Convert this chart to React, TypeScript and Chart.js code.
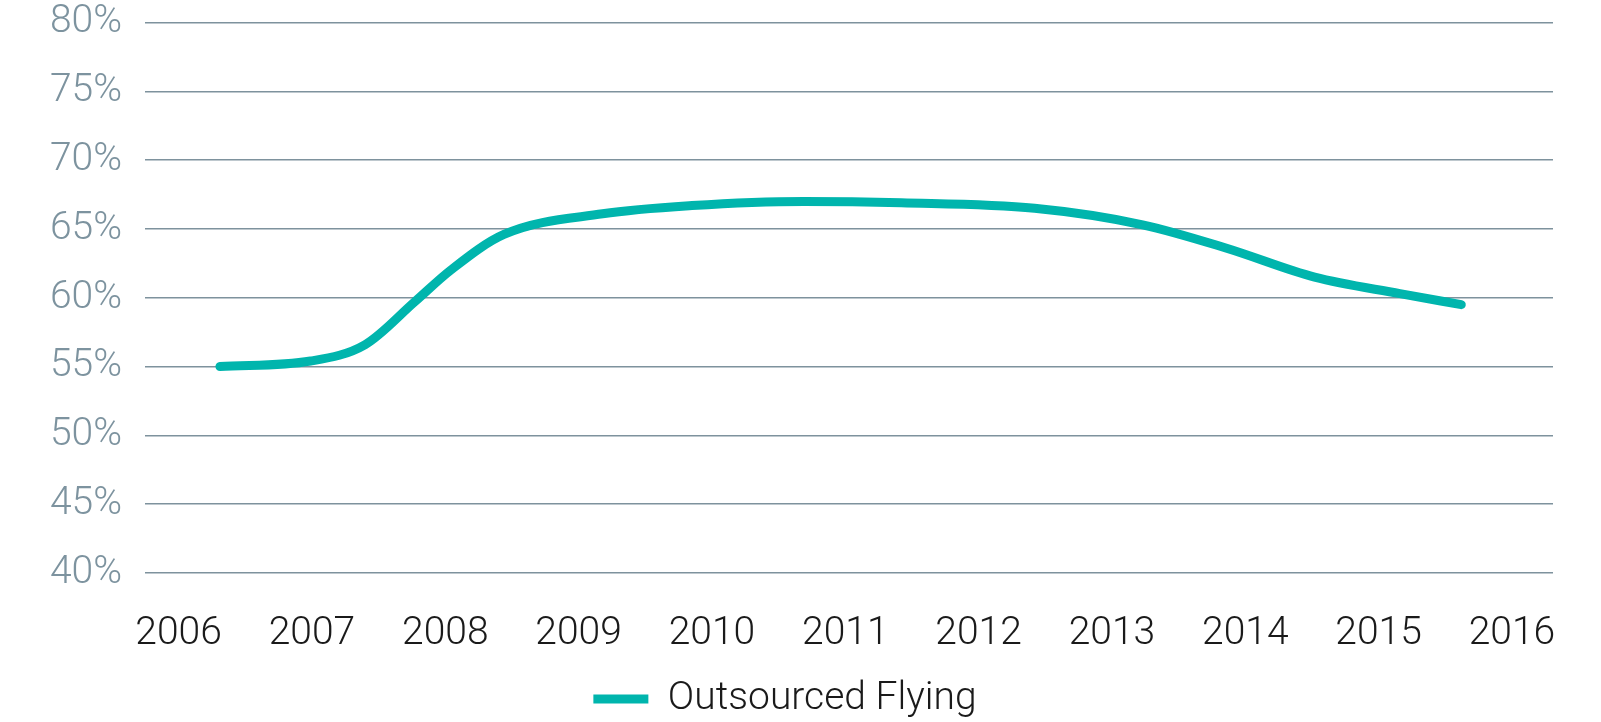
import React, { useEffect, useRef } from "react";
import { Chart, registerables } from "chart.js";

Chart.register(...registerables);

// Data
const seriesLabel = "Outsourced Flying";
const pointYears = [2006.31, 2006.99, 2007.4, 2007.77, 2008.04, 2008.44, 2009.18, 2009.85, 2010.69, 2011.42, 2012.42, 2013.23, 2013.86, 2014.52, 2015.16, 2015.62];
const pointValues = [55.0, 55.4, 56.6, 59.7, 62.0, 64.6, 66.1, 66.7, 67.0, 66.9, 66.5, 65.3, 63.6, 61.5, 60.3, 59.5];
const yearTicks = [2006, 2007, 2008, 2009, 2010, 2011, 2012, 2013, 2014, 2015, 2016];
const yMin = 40;
const yMax = 80;
const yStep = 5;

const TEAL = "#00b5ad";
const FONT = "Roboto";

export default function App() {
  const ref = useRef<HTMLCanvasElement | null>(null);

  useEffect(() => {
    if (!ref.current) return;
    const data = pointYears.map((x, i) => ({ x, y: pointValues[i] }));
    const chart = new Chart(ref.current, {
      type: "line",
      data: {
        datasets: [
          {
            label: seriesLabel,
            data,
            borderColor: TEAL,
            backgroundColor: TEAL,
            borderWidth: 9,
            borderCapStyle: "round",
            borderJoinStyle: "round",
            pointRadius: 0,
            pointHoverRadius: 0,
            cubicInterpolationMode: "monotone",
            fill: false,
          },
        ],
      },
      options: {
        animation: false,
        responsive: true,
        maintainAspectRatio: false,
        layout: { padding: { left: 17, right: 48, top: 0, bottom: -6.5 } },
        plugins: {
          tooltip: { enabled: false },
          legend: {
            position: "bottom",
            labels: {
              boxWidth: 55,
              boxHeight: 9,
              padding: 10,
              color: "#1a1a1a",
              font: { family: FONT, size: 39, weight: "300" },
              generateLabels: (c: any) =>
                Chart.defaults.plugins.legend.labels.generateLabels(c).map((l: any) => ({
                  ...l,
                  fillStyle: TEAL,
                  strokeStyle: TEAL,
                  lineWidth: 0,
                })),
            },
          },
        },
        scales: {
          x: {
            type: "linear",
            min: 2005.748,
            max: 2016.308,
            grid: { display: false, drawTicks: false },
            border: { display: false },
            afterBuildTicks: (axis: any) => {
              axis.ticks = yearTicks.map((v) => ({ value: v }));
            },
            afterFit: (axis: any) => {
              axis.height = 96.5;
            },
            ticks: {
              autoSkip: false,
              maxRotation: 0,
              padding: 37.6,
              color: "#1a1a1a",
              font: { family: FONT, size: 39, weight: "300" },
              callback: (v: any) => String(v),
            },
          },
          y: {
            min: yMin,
            max: yMax,
            afterFit: (axis: any) => {
              axis.width = 128;
              axis.paddingTop = 22.5;
              axis.paddingBottom = 0;
            },
            grid: { color: "#7e929d", lineWidth: 1.5, drawTicks: false },
            border: { display: false },
            ticks: {
              stepSize: yStep,
              padding: 23,
              color: "#7d939f",
              font: { family: FONT, size: 39, weight: "300" },
              callback: (v: any) => v + "%",
            },
          },
        },
      },
    });
    return () => chart.destroy();
  }, []);

  return (
    <div style={{ position: "absolute", left: 0, top: 0, width: 1601, height: 722, background: "#fff" }}>
      <canvas ref={ref} />
    </div>
  );
}
